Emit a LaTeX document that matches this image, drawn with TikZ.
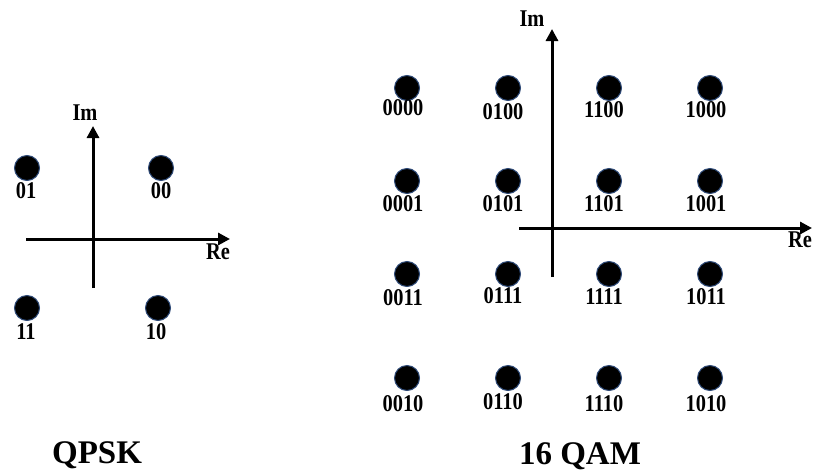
\documentclass[tikz,border=0pt]{standalone}
\usepackage{fontspec}
\setmainfont{Liberation Serif}
\newfontfamily\narrowserif{Liberation Serif}[FakeStretch=0.85]
\usepackage{tikz}
\usetikzlibrary{arrows.meta}
\definecolor{DotRim}{HTML}{2E4A78}

\begin{document}
\begin{tikzpicture}[x=1pt, y=-1pt,
    dot/.style={circle, fill=black, draw=DotRim, line width=1pt, minimum size=25pt, inner sep=0pt},
    bit/.style={font=\narrowserif\fontsize{24}{26}\selectfont\bfseries, inner sep=0pt},
    axis/.style={line width=3pt, -{Triangle[length=12pt,width=12pt]}},
    title/.style={font=\fontsize{33}{36}\selectfont\bfseries, inner sep=0pt}
  ]
    \useasboundingbox (0,0) rectangle (813,474);

    % QPSK
    \coordinate (qre0) at (26,239);
    \coordinate (qre1) at (230,239);
    \coordinate (qim0) at (93,288);
    \coordinate (qim1) at (93,126);
    \draw[axis] (qre0) -- (qre1);
    \draw[axis] (qim0) -- (qim1);
    \node[bit] (qim) at (85,113) {Im};
    \node[bit] (qre) at (218,252) {Re};

    \node[dot] (p01) at (27,168) {};
    \node[dot] (p00) at (161,168) {};
    \node[dot] (p11) at (27,308) {};
    \node[dot] (p10) at (158,308) {};
    \node[bit] at (26,191) {01};
    \node[bit] at (161,191) {00};
    \node[bit] at (26,332) {11};
    \node[bit] at (156,332) {10};

    \node[title] (qpsk) at (97,455) {QPSK};

    % 16 QAM
    \coordinate (are0) at (519,228);
    \coordinate (are1) at (812,228);
    \coordinate (aim0) at (552,277);
    \coordinate (aim1) at (552,29);
    \draw[axis] (are0) -- (are1);
    \draw[axis] (aim0) -- (aim1);
    \node[bit] (aim) at (532,19) {Im};
    \node[bit] (are) at (800,240) {Re};

    \node[dot] (a0000) at (407,88) {};
    \node[dot] (a0100) at (508,88) {};
    \node[dot] (a1100) at (609,88) {};
    \node[dot] (a1000) at (710,88) {};
    \node[dot] (a0001) at (407,181) {};
    \node[dot] (a0101) at (508,181) {};
    \node[dot] (a1101) at (609,181) {};
    \node[dot] (a1001) at (710,181) {};
    \node[dot] (a0011) at (407,274) {};
    \node[dot] (a0111) at (508,274) {};
    \node[dot] (a1111) at (609,274) {};
    \node[dot] (a1011) at (710,274) {};
    \node[dot] (a0010) at (407,378) {};
    \node[dot] (a0110) at (508,378) {};
    \node[dot] (a1110) at (609,378) {};
    \node[dot] (a1010) at (710,378) {};

    \node[bit] at (403,108) {0000};
    \node[bit] at (503,112) {0100};
    \node[bit] at (604,110) {1100};
    \node[bit] at (706,110) {1000};
    \node[bit] at (403,204) {0001};
    \node[bit] at (503,204) {0101};
    \node[bit] at (604,204) {1101};
    \node[bit] at (706,204) {1001};
    \node[bit] at (403,298) {0011};
    \node[bit] at (503,296) {0111};
    \node[bit] at (604,297) {1111};
    \node[bit] at (706,297) {1011};
    \node[bit] at (403,404) {0010};
    \node[bit] at (503,402) {0110};
    \node[bit] at (604,404) {1110};
    \node[bit] at (706,404) {1010};

    \node[title] (qam) at (580,456) {16 QAM};
  \end{tikzpicture}
\end{document}
